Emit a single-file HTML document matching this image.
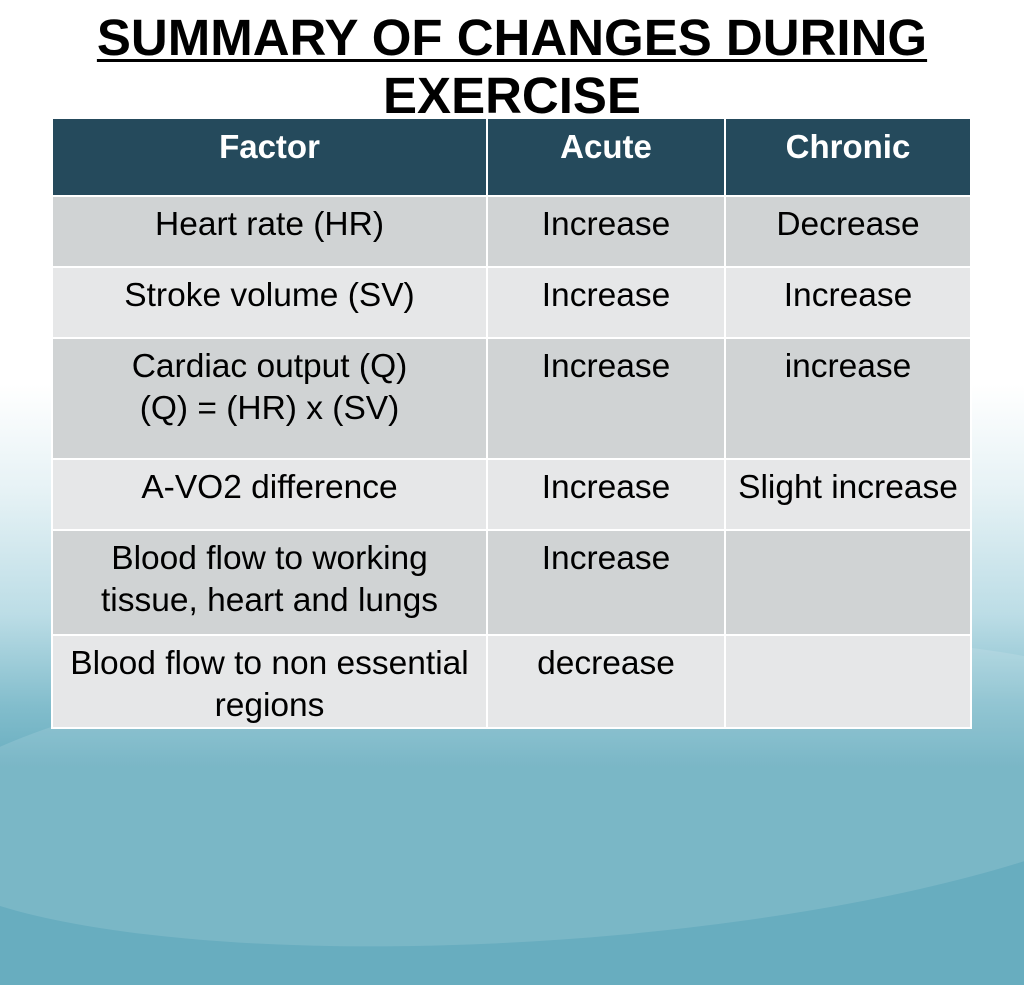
<!DOCTYPE html>
<html style="background:#68adbf"><head><meta charset="utf-8">
<style>
html,body{margin:0;padding:0}
body{width:1024px;height:768px;overflow:hidden;position:relative;font-family:"Liberation Sans",Arial,sans-serif;
background:linear-gradient(180deg,#ffffff 0%,#ffffff 50%,#e6f2f5 64%,#bcdde6 80%,#82bdcc 92%,#68adbf 100%);}
.wave{position:absolute;left:-100px;width:1300px;border-radius:50%;}
h1{position:absolute;left:0;width:1024px;top:9px;margin:0;text-align:center;font-size:51px;line-height:58px;font-weight:bold;color:#000;}
h1 span{text-decoration:underline;text-decoration-thickness:3px;text-underline-offset:4px}
table{position:absolute;left:51px;top:117px;border-collapse:collapse;background:#fff;border:2px solid #fff;table-layout:fixed}
td,th{border:2px solid #fff;text-align:center;vertical-align:top;font-size:33.5px;line-height:42px;padding:7px 0 0 0;color:#000;font-weight:normal;white-space:nowrap}
th{background:#254a5c;color:#fff;font-weight:bold;font-size:33px;padding-top:7px}
tr.g td{background:#d0d3d4}
tr.l td{background:#e6e7e8}
</style></head><body>
<div class="wave" style="top:640px;height:300px;background:rgba(255,255,255,0.12);transform:rotate(-4deg)"></div>
<h1><span>SUMMARY OF CHANGES DURING</span><br><span style="text-decoration:none">EXERCISE</span></h1>
<table>
<colgroup><col style="width:435px"><col style="width:238px"><col style="width:246px"></colgroup>
<tr style="height:78px"><th>Factor</th><th>Acute</th><th>Chronic</th></tr>
<tr class="g" style="height:71px"><td>Heart rate (HR)</td><td>Increase</td><td>Decrease</td></tr>
<tr class="l" style="height:71px"><td>Stroke volume (SV)</td><td>Increase</td><td>Increase</td></tr>
<tr class="g" style="height:121px"><td>Cardiac output (Q)<br>(Q) = (HR) x (SV)</td><td>Increase</td><td>increase</td></tr>
<tr class="l" style="height:71px"><td>A-VO2 difference</td><td>Increase</td><td>Slight increase</td></tr>
<tr class="g" style="height:105px"><td>Blood flow to working<br>tissue, heart and lungs</td><td>Increase</td><td></td></tr>
<tr class="l" style="height:93px"><td>Blood flow to non essential<br>regions</td><td>decrease</td><td></td></tr>
</table>
</body></html>
